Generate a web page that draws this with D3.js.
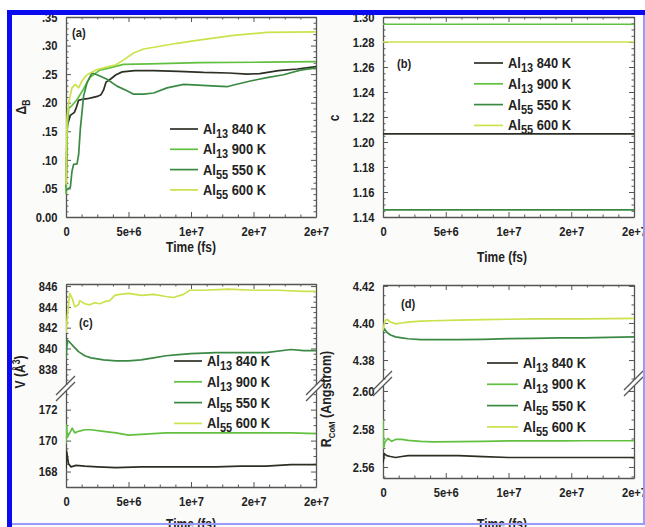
<!DOCTYPE html>
<html>
<head>
<meta charset="utf-8">
<script src="https://cdn.jsdelivr.net/npm/d3@7/dist/d3.min.js"></script>
<style>
  html, body { margin: 0; padding: 0; background: #ffffff; }
  svg { display: block; }
  text { font-family: "Liberation Sans", Arial, Helvetica, sans-serif; font-weight: bold; fill: #222; }
</style>
</head>
<body>
<svg id="chart" width="645" height="527"></svg>
<script>
// ---- series labels and colours ----
const seriesNames = [
  { base: "Al", sub: "13", rest: " 840 K" },
  { base: "Al", sub: "13", rest: " 900 K" },
  { base: "Al", sub: "55", rest: " 550 K" },
  { base: "Al", sub: "55", rest: " 600 K" }
];
const seriesColors = ["#2c3024", "#62c040", "#3b8a44", "#cde14c"];

// ---- time axis (units of 1e6 fs) ----
const timeTicks = [0, 5, 10, 15, 20];
const timeTickLabels = ["0", "5e+6", "1e+7", "2e+7", "2e+7"];

// ---- panel (a): order parameter Delta_B vs time ----
const aTicks = [0, 0.05, 0.10, 0.15, 0.20, 0.25, 0.30, 0.35];
const aTickLabels = ["0.00", ".05", ".10", ".15", ".20", ".25", ".30", ".35"];
const a840 = [[0,0.05],[0.1,0.16],[0.21,0.168],[0.35,0.178],[0.48,0.18],[0.67,0.183],[0.8,0.19],[1.0,0.204],[1.3,0.206],[1.7,0.207],[2.1,0.209],[2.5,0.211],[2.8,0.214],[3.0,0.222],[3.2,0.236],[3.6,0.242],[4.0,0.249],[4.5,0.254],[5.5,0.256],[7,0.256],[9,0.255],[11,0.253],[13,0.252],[14.5,0.250],[15.5,0.251],[17,0.256],[18.5,0.259],[20,0.263]];
const a900 = [[0,0.04],[0.1,0.15],[0.21,0.19],[0.48,0.195],[0.9,0.206],[1.4,0.224],[1.9,0.244],[2.7,0.257],[3.5,0.261],[4.6,0.267],[6.7,0.268],[10.7,0.270],[16,0.271],[20,0.272]];
const a550 = [[0,0.046],[0.21,0.05],[0.35,0.052],[0.48,0.08],[0.61,0.092],[0.88,0.093],[1.01,0.109],[1.15,0.155],[1.41,0.212],[1.68,0.235],[2.08,0.252],[2.48,0.249],[3.28,0.241],[4.08,0.229],[4.88,0.221],[5.41,0.215],[6.21,0.215],[7.01,0.217],[8.08,0.226],[9.41,0.232],[11.28,0.230],[12.88,0.228],[13.41,0.231],[14.75,0.238],[16.08,0.244],[17.41,0.249],[18.75,0.257],[20,0.261]];
const a600 = [[0,0.057],[0.08,0.172],[0.21,0.20],[0.48,0.226],[0.75,0.232],[1.01,0.226],[1.28,0.238],[1.68,0.249],[2.48,0.258],[3.55,0.264],[3.95,0.266],[4.61,0.275],[5.41,0.287],[6.21,0.294],[7.28,0.298],[8.88,0.304],[10.75,0.310],[13.41,0.318],[16.08,0.323],[20,0.324]];

// ---- panel (b): c vs time ----
const bTicks = [1.14, 1.16, 1.18, 1.20, 1.22, 1.24, 1.26, 1.28, 1.30];
const bTickLabels = ["1.14", "1.16", "1.18", "1.20", "1.22", "1.24", "1.26", "1.28", "1.30"];
const bLevels = [1.2065, 1.2942, 1.1457, 1.2800];

// ---- panel (c): volume V vs time (broken axis) ----
const cUpperTicks = [838, 840, 842, 844, 846];
const cLowerTicks = [168, 170, 172];
const c840 = [[0,168.2],[0.05,169.3],[0.2,168.5],[0.4,168.3],[0.8,168.4],[1.5,168.35],[2.5,168.3],[4,168.25],[6,168.3],[8,168.3],[10,168.3],[12,168.3],[14,168.35],[16,168.35],[18,168.45],[20,168.45]];
const c900 = [[0,169.8],[0.05,171.0],[0.1,170.2],[0.3,170.5],[0.5,170.8],[0.7,170.5],[1,170.6],[1.5,170.7],[2,170.7],[3,170.6],[4,170.5],[5,170.35],[6,170.4],[8,170.5],[10,170.5],[12,170.5],[14,170.5],[16,170.5],[18,170.5],[20,170.45]];
const c550 = [[0,839.0],[0.1,840.8],[0.3,840.6],[0.6,840.2],[1.0,839.7],[1.5,839.3],[2,839.1],[3,838.9],[4,838.8],[5,838.8],[6,838.9],[7,839.1],[8,839.3],[9,839.4],[10,839.5],[12,839.6],[14,839.6],[16,839.6],[18,839.9],[19,839.8],[20,839.8]];
const c600 = [[0,841.5],[0.1,843.0],[0.3,845.3],[0.5,844.8],[0.7,844.0],[1.0,844.2],[1.1,844.6],[1.5,844.3],[1.9,844.2],[2.3,844.4],[2.7,844.3],[3.1,844.5],[3.5,844.6],[3.9,845.1],[4.3,845.2],[5,845.3],[6,845.1],[7,845.2],[8,845.0],[8.6,844.9],[9.4,845.2],[9.9,845.6],[11,845.6],[13,845.7],[15,845.6],[17,845.6],[19,845.5],[20,845.5]];

// ---- panel (d): R_CoM vs time (broken axis) ----
const dUpperTicks = [4.38, 4.40, 4.42];
const dLowerTicks = [2.56, 2.58, 2.60];
const d840 = [[0,2.562],[0.1,2.567],[0.3,2.566],[0.6,2.5655],[1,2.565],[1.5,2.5655],[2,2.566],[3,2.566],[4,2.566],[6,2.566],[8,2.5655],[10,2.565],[14,2.565],[20,2.565]];
const d900 = [[0,2.585],[0.05,2.570],[0.15,2.573],[0.4,2.575],[0.7,2.5735],[1,2.5745],[1.5,2.5745],[2,2.574],[3,2.5735],[4,2.5732],[6,2.5733],[8,2.5735],[10,2.5737],[12,2.5737],[14,2.5737],[16,2.5738],[18,2.5738],[20,2.5738]];
const d550 = [[0,4.395],[0.1,4.397],[0.3,4.395],[0.6,4.3935],[1,4.3925],[1.5,4.392],[2,4.3915],[3,4.391],[4,4.391],[6,4.391],[8,4.3912],[10,4.3915],[12,4.3917],[14,4.392],[16,4.392],[18,4.3922],[20,4.3925]];
const d600 = [[0,4.396],[0.15,4.401],[0.3,4.402],[0.6,4.4005],[1,4.3995],[1.5,4.400],[2,4.4005],[3,4.401],[4,4.4012],[6,4.4015],[8,4.4018],[10,4.402],[12,4.4022],[14,4.4022],[16,4.4022],[18,4.4024],[20,4.4025]];

const svg = d3.select("#chart");
const SQUEEZE = 0.86;   // horizontal compression of the lettering

// page background inside the frame
svg.append("rect").attr("x", 12).attr("y", 15).attr("width", 633).attr("height", 512).attr("fill", "#fbfbfa");

// text placed at (x, y) and squeezed horizontally around that point
function label(g, x, y, size, anchor, rotate) {
  const rot = rotate ? ` rotate(${rotate})` : "";
  return g.append("text")
    .attr("transform", `translate(${x},${y})${rot} scale(${SQUEEZE},1)`)
    .attr("font-size", size).attr("text-anchor", anchor || "start");
}

// box with inward ticks on all four sides
function drawBox(g, x, yPieces, box) {
  const [x0, x1] = x.range();
  g.append("rect").attr("x", x0).attr("y", box.top).attr("width", x1 - x0).attr("height", box.bottom - box.top)
    .attr("fill", "#ffffff").attr("stroke", "none");
  const axisColor = "#555";
  const xMinor = d3.range(0, 20.01, 1.25).filter(v => !timeTicks.includes(v));
  const xb = d3.axisBottom(x).tickValues(timeTicks).tickSizeInner(-5).tickSizeOuter(0).tickFormat((d, i) => timeTickLabels[i]).tickPadding(10);
  const gx = g.append("g").attr("transform", `translate(0,${box.bottom})`).call(xb);
  gx.select(".domain").attr("stroke", axisColor).attr("stroke-width", 1.3);
  gx.selectAll(".tick line").attr("stroke", axisColor);
  gx.selectAll("text").attr("font-size", 13).attr("fill", "#222").attr("transform", `scale(${SQUEEZE},1)`);
  g.append("g").attr("transform", `translate(0,${box.bottom})`).call(d3.axisBottom(x).tickValues(xMinor).tickSize(-2.5).tickFormat(""))
    .call(s => { s.select(".domain").remove(); s.selectAll("line").attr("stroke", axisColor); });
  const gt = g.append("g").attr("transform", `translate(0,${box.top})`).call(d3.axisTop(x).tickValues(timeTicks).tickSizeInner(-5).tickSizeOuter(0).tickFormat(""));
  gt.select(".domain").attr("stroke", axisColor).attr("stroke-width", 1.3);
  gt.selectAll("line").attr("stroke", axisColor);
  g.append("g").attr("transform", `translate(0,${box.top})`).call(d3.axisTop(x).tickValues(xMinor).tickSize(-2.5).tickFormat(""))
    .call(s => { s.select(".domain").remove(); s.selectAll("line").attr("stroke", axisColor); });

  // y axes per piece (left and right)
  yPieces.forEach(p => {
    const gl = g.append("g").attr("transform", `translate(${x0},0)`)
      .call(d3.axisLeft(p.scale).tickValues(p.ticks).tickSizeInner(-5).tickSizeOuter(0).tickPadding(10)
        .tickFormat((d, i) => p.labels ? p.labels[i] : p.fmt(d)));
    gl.select(".domain").attr("stroke", axisColor).attr("stroke-width", 1.3);
    gl.selectAll(".tick line").attr("stroke", axisColor);
    gl.selectAll("text").attr("font-size", 13).attr("fill", "#222").attr("transform", `scale(${SQUEEZE},1)`);
    g.append("g").attr("transform", `translate(${x0},0)`).call(d3.axisLeft(p.scale).tickValues(p.minor).tickSize(-2.5).tickFormat(""))
      .call(s => { s.select(".domain").remove(); s.selectAll("line").attr("stroke", axisColor); });
    const gr = g.append("g").attr("transform", `translate(${x1},0)`)
      .call(d3.axisRight(p.scale).tickValues(p.ticks).tickSizeInner(-5).tickSizeOuter(0).tickFormat(""));
    gr.select(".domain").attr("stroke", axisColor).attr("stroke-width", 1.3);
    gr.selectAll("line").attr("stroke", axisColor);
    g.append("g").attr("transform", `translate(${x1},0)`).call(d3.axisRight(p.scale).tickValues(p.minor).tickSize(-2.5).tickFormat(""))
      .call(s => { s.select(".domain").remove(); s.selectAll("line").attr("stroke", axisColor); });
  });
}

function drawSeries(g, x, y, data, color, clipId) {
  const line = d3.line().x(d => x(d[0])).y(d => y(d[1]));
  g.append("path").datum(data).attr("d", line).attr("fill", "none")
    .attr("stroke", color).attr("stroke-width", 1.7).attr("stroke-linejoin", "round")
    .attr("clip-path", clipId ? `url(#${clipId})` : null);
}

function drawLegend(g, x0, y0, dy, lineLen, fontSize) {
  seriesNames.forEach((s, i) => {
    const y = y0 + i * dy;
    g.append("line").attr("x1", x0).attr("x2", x0 + lineLen).attr("y1", y).attr("y2", y)
      .attr("stroke", seriesColors[i]).attr("stroke-width", 1.7);
    const t = label(g, x0 + lineLen + 5, y + 5, fontSize);
    t.append("tspan").text(s.base);
    t.append("tspan").attr("dy", 4).attr("font-size", fontSize * 0.85).text(s.sub);
    t.append("tspan").attr("dy", -4).text(s.rest);
  });
}

function breakMarks(g, x, yb) {
  g.append("rect").attr("x", x - 3).attr("y", yb - 3).attr("width", 6).attr("height", 6).attr("fill", "#ffffff");
  [-3, 3].forEach(o => {
    g.append("line").attr("x1", x - 10).attr("y1", yb + o + 10).attr("x2", x + 9).attr("y2", yb + o - 9)
      .attr("stroke", "#555").attr("stroke-width", 1.2);
  });
}

const defs = svg.append("defs");

// ---------- panel (a) ----------
{
  const g = svg.append("g");
  const box = { top: 17, bottom: 217 };
  const x = d3.scaleLinear().domain([0, 20]).range([66, 316]);
  const y = d3.scaleLinear().domain([0, 0.35]).range([box.bottom, box.top]);
  drawBox(g, x, [{ scale: y, ticks: aTicks, labels: aTickLabels, minor: d3.range(0, 0.351, 0.01).filter(v => Math.abs(v * 20 - Math.round(v * 20)) > 1e-6) }], box);
  [a840, a900, a550, a600].forEach((d, i) => drawSeries(g, x, y, d, seriesColors[i]));
  label(g, 72, 37, 13).text("(a)");
  drawLegend(g, 170, 129, 20.3, 28, 15);
  label(g, 26, 107, 14, "middle", -90)
    .call(t => { t.append("tspan").text("Δ"); t.append("tspan").attr("dy", 4).attr("font-size", 10).text("B"); });
  label(g, 191, 252, 14, "middle").text("Time (fs)");
}

// ---------- panel (b) ----------
{
  const g = svg.append("g");
  const box = { top: 17, bottom: 217 };
  const x = d3.scaleLinear().domain([0, 20]).range([383, 634]);
  const y = d3.scaleLinear().domain([1.14, 1.30]).range([box.bottom, box.top]);
  drawBox(g, x, [{ scale: y, ticks: bTicks, labels: bTickLabels, minor: d3.range(1.145, 1.30, 0.005).filter(v => Math.abs(v * 50 - Math.round(v * 50)) > 1e-6) }], box);
  bLevels.forEach((v, i) => drawSeries(g, x, y, [[0, v], [20, v]], seriesColors[i]));
  label(g, 397, 68, 13).text("(b)");
  drawLegend(g, 474, 63, 20.8, 29, 15);
  label(g, 339, 118, 14, "middle", -90).text("c");
  label(g, 502, 262, 14, "middle").text("Time (fs)");
}

// ---------- panel (c) ----------
{
  const g = svg.append("g");
  const box = { top: 284, bottom: 487 };
  const yBreak = 388;
  const x = d3.scaleLinear().domain([0, 20]).range([66, 316]);
  const yU = d3.scaleLinear().domain([836.2, 846.2]).range([yBreak, box.top]);
  const yL = d3.scaleLinear().domain([167.0, 173.4]).range([box.bottom, yBreak]);
  drawBox(g, x, [
    { scale: yU, ticks: cUpperTicks, fmt: d3.format("d"), minor: d3.range(836.5, 846.1, 0.5).filter(v => v % 2 !== 0) },
    { scale: yL, ticks: cLowerTicks, fmt: d3.format("d"), minor: d3.range(167, 173.4, 0.5).filter(v => v % 2 !== 0) }
  ], box);
  defs.append("clipPath").attr("id", "clipCU").append("rect").attr("x", 66).attr("y", box.top).attr("width", 250).attr("height", yBreak - box.top);
  defs.append("clipPath").attr("id", "clipCL").append("rect").attr("x", 66).attr("y", yBreak).attr("width", 250).attr("height", box.bottom - yBreak);
  drawSeries(g, x, yL, c840, seriesColors[0], "clipCL");
  drawSeries(g, x, yL, c900, seriesColors[1], "clipCL");
  drawSeries(g, x, yU, c550, seriesColors[2], "clipCU");
  drawSeries(g, x, yU, c600, seriesColors[3], "clipCU");
  breakMarks(g, 66, yBreak);
  breakMarks(g, 316, yBreak);
  label(g, 79, 327, 13).text("(c)");
  drawLegend(g, 174, 361, 20.8, 28, 15);
  label(g, 25, 372, 14, "middle", -90)
    .call(t => { t.append("tspan").text("V (Å"); t.append("tspan").attr("dy", -5).attr("font-size", 10).text("3"); t.append("tspan").attr("dy", 5).text(")"); });
  label(g, 191, 529, 14, "middle").text("Time (fs)");
}

// ---------- panel (d) ----------
{
  const g = svg.append("g");
  const box = { top: 285, bottom: 478 };
  const yBreak = 383;
  const x = d3.scaleLinear().domain([0, 20]).range([383, 634]);
  const yU = d3.scaleLinear().domain([4.3676, 4.4205]).range([yBreak, box.top]);
  const yL = d3.scaleLinear().domain([2.5542, 2.6042]).range([box.bottom, yBreak]);
  drawBox(g, x, [
    { scale: yU, ticks: dUpperTicks, fmt: d3.format(".2f"), minor: d3.range(4.37, 4.42, 0.005).filter(v => Math.abs(v * 50 - Math.round(v * 50)) > 1e-6) },
    { scale: yL, ticks: dLowerTicks, fmt: d3.format(".2f"), minor: d3.range(2.555, 2.604, 0.005).filter(v => Math.abs(v * 50 - Math.round(v * 50)) > 1e-6) }
  ], box);
  defs.append("clipPath").attr("id", "clipDU").append("rect").attr("x", 383).attr("y", box.top).attr("width", 251).attr("height", yBreak - box.top);
  defs.append("clipPath").attr("id", "clipDL").append("rect").attr("x", 383).attr("y", yBreak).attr("width", 251).attr("height", box.bottom - yBreak);
  drawSeries(g, x, yL, d840, seriesColors[0], "clipDL");
  drawSeries(g, x, yL, d900, seriesColors[1], "clipDL");
  drawSeries(g, x, yU, d550, seriesColors[2], "clipDU");
  drawSeries(g, x, yU, d600, seriesColors[3], "clipDU");
  breakMarks(g, 383, yBreak);
  breakMarks(g, 634, yBreak);
  label(g, 401, 308, 13).text("(d)");
  drawLegend(g, 487, 363, 21.3, 31, 15);
  label(g, 331, 399, 14.5, "middle", -90)
    .call(t => { t.append("tspan").text("R"); t.append("tspan").attr("dy", 4).attr("font-size", 9).text("CoM"); t.append("tspan").attr("dy", -4).text(" (Angstrom)"); });
  label(g, 502, 529, 14, "middle").text("Time (fs)");
}

// outer blue frame
svg.append("rect").attr("x", 7).attr("y", 10).attr("width", 638).attr("height", 5).attr("fill", "#0a0af0");
svg.append("rect").attr("x", 7).attr("y", 10).attr("width", 5).attr("height", 517).attr("fill", "#0a0af0");
svg.append("rect").attr("x", 12).attr("y", 523).attr("width", 633).attr("height", 2).attr("fill", "#9a9af8");
svg.append("rect").attr("x", 643).attr("y", 15).attr("width", 2).attr("height", 510).attr("fill", "#9a9af8");
</script>
</body>
</html>
